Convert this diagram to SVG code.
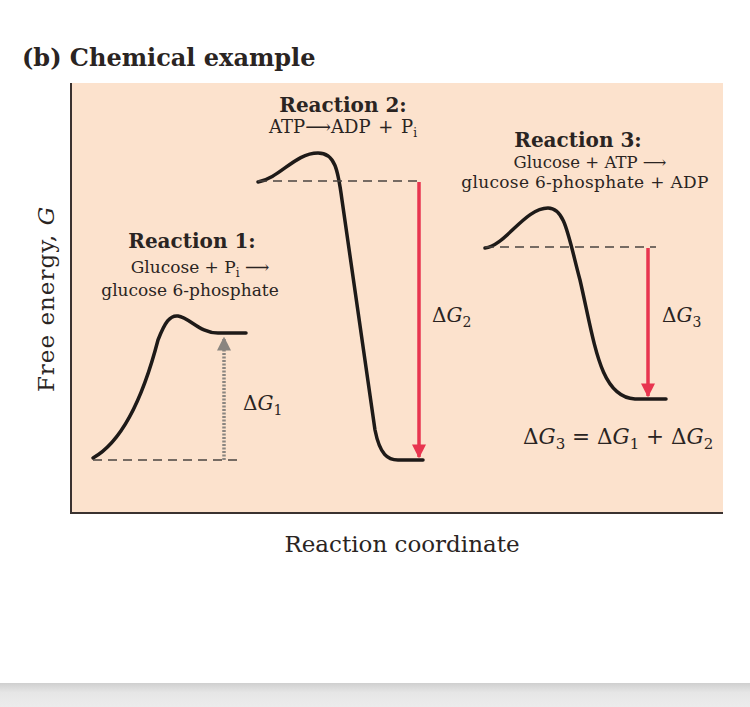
<svg xmlns="http://www.w3.org/2000/svg" width="750" height="707" viewBox="0 0 750 707">
<style>
.t{font-family:"DejaVu Serif","Liberation Serif",serif;fill:#2a2422}
.b{font-weight:bold}
.curve{fill:none;stroke:#1e1a18;stroke-width:3.5;stroke-linecap:round;stroke-linejoin:round}
.dash{fill:none;stroke:#4a4440;stroke-width:1.6;stroke-dasharray:9,6}
.red{stroke:#e8354f;stroke-width:3.5;fill:none}
.gray{stroke:#8a8580;stroke-width:3.5;stroke-dasharray:2,1.5;fill:none}
</style>
<defs>
<linearGradient id="band" x1="0" y1="0" x2="0" y2="1">
<stop offset="0" stop-color="#cfcfcf"/><stop offset="0.4" stop-color="#e6e6e6"/><stop offset="1" stop-color="#ececec"/>
</linearGradient>
<marker id="ah" viewBox="0 0 10 10" refX="9" refY="5" markerWidth="4" markerHeight="4.5" orient="auto" markerUnits="strokeWidth">
<path d="M0,0 L10,5 L0,10 z" fill="#e8354f"/>
</marker>
<marker id="ahg" viewBox="0 0 10 10" refX="9" refY="5" markerWidth="4" markerHeight="4" orient="auto" markerUnits="strokeWidth">
<path d="M0,0 L10,5 L0,10 z" fill="#8a8580"/>
</marker>
</defs>
<rect width="750" height="707" fill="#ffffff"/>
<text class="t b" x="22" y="66" font-size="24">(b) Chemical example</text>
<g id="panel">
<rect x="70" y="83" width="653" height="430" fill="#fce2cd"/>
<line x1="71" y1="83" x2="71" y2="514" stroke="#3a3230" stroke-width="2"/>
<line x1="70" y1="513" x2="723" y2="513" stroke="#3a3230" stroke-width="2"/>
</g>
<text class="t" x="0" y="0" font-size="23" letter-spacing="1" text-anchor="middle" transform="translate(54,299) rotate(-90)">Free energy, <tspan font-style="italic">G</tspan></text>
<text class="t" x="402" y="552" font-size="23" text-anchor="middle">Reaction coordinate</text>
<rect x="0" y="683" width="750" height="24" fill="url(#band)"/>
<g id="reaction1">
<text class="t b" x="192" y="248" font-size="20" text-anchor="middle">Reaction 1:</text>
<text class="t" x="200" y="273" font-size="17" text-anchor="middle">Glucose + P<tspan font-size="12" dy="4">i</tspan><tspan dy="-4"> ⟶</tspan></text>
<text class="t" x="190" y="296" font-size="17" text-anchor="middle">glucose 6-phosphate</text>
<path class="curve" d="M93,458 C125,440 145,390 158,340 C165,322 170,315 178,316 C190,318 200,333 218,333 L246,333"/>
<line class="dash" x1="93" y1="460" x2="240" y2="460"/>
<line class="gray" x1="224" y1="460" x2="224" y2="338" marker-end="url(#ahg)"/>
<text class="t" x="243" y="410" font-size="20"><tspan>Δ</tspan><tspan font-style="italic">G</tspan><tspan font-size="14" dy="5">1</tspan></text>
</g>
<g id="reaction2">
<text class="t b" x="343" y="112" font-size="20" text-anchor="middle">Reaction 2:</text>
<text class="t" x="343" y="133" font-size="18" word-spacing="2" text-anchor="middle">ATP⟶ADP + P<tspan font-size="12" dy="4">i</tspan></text>
<path class="curve" d="M258,182 C280,178 295,153 318,153 C335,153 338,170 342,200 L375,430 C380,455 388,460 398,460 L423,460"/>
<line class="dash" x1="258" y1="181" x2="423" y2="181"/>
<line class="red" x1="419" y1="182" x2="419" y2="457" marker-end="url(#ah)"/>
<text class="t" x="432" y="322" font-size="20"><tspan>Δ</tspan><tspan font-style="italic">G</tspan><tspan font-size="14" dy="5">2</tspan></text>
</g>
<g id="reaction3">
<text class="t b" x="578" y="147" font-size="20" text-anchor="middle">Reaction 3:</text>
<text class="t" x="590" y="168" font-size="16.5" text-anchor="middle">Glucose + ATP ⟶</text>
<text class="t" x="585" y="188" font-size="17" letter-spacing="0.3" text-anchor="middle">glucose 6-phosphate + ADP</text>
<path class="curve" d="M485,248 C505,246 525,208 548,208 C565,208 568,235 580,280 C595,345 600,397 635,399 L666,399"/>
<line class="dash" x1="485" y1="247" x2="656" y2="247"/>
<line class="red" x1="648" y1="248" x2="648" y2="396" marker-end="url(#ah)"/>
<text class="t" x="662" y="322" font-size="20"><tspan>Δ</tspan><tspan font-style="italic">G</tspan><tspan font-size="14" dy="5">3</tspan></text>
<text class="t" x="523" y="444" font-size="21.5"><tspan>Δ</tspan><tspan font-style="italic">G</tspan><tspan font-size="15" dy="5">3</tspan><tspan dy="-5"> = Δ</tspan><tspan font-style="italic">G</tspan><tspan font-size="15" dy="5">1</tspan><tspan dy="-5"> + Δ</tspan><tspan font-style="italic">G</tspan><tspan font-size="15" dy="5">2</tspan></text>
</g>
</svg>
